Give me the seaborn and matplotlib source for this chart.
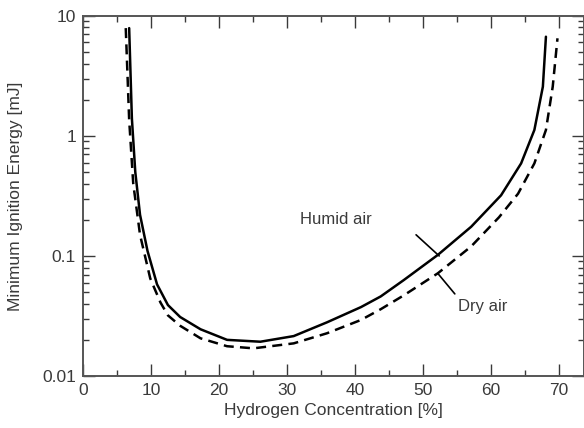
import numpy as np
import pandas as pd
import seaborn as sns
import matplotlib.pyplot as plt
from matplotlib.ticker import MultipleLocator, LogLocator, NullFormatter

# Humid air (solid)
humid_x = [6.8, 7.2, 7.7, 8.4, 9.5, 10.9, 12.5, 14.3, 17.3, 21.2, 26.1, 31.0, 35.9, 40.9,
           43.8, 47.2, 52.2, 57.1, 61.5, 64.45, 66.4, 67.65, 68.1]
humid_y = [7.9, 1.4, 0.5, 0.22, 0.11, 0.058, 0.039, 0.031, 0.0245, 0.020, 0.0193, 0.0215, 0.028, 0.0375,
           0.046, 0.063, 0.102, 0.175, 0.32, 0.59, 1.12, 2.57, 6.7]

# Dry air (dashed)
dry_x = [6.3, 6.8, 7.4, 8.4, 9.9, 11.4, 12.5, 14.3, 17.3, 21.2, 25.1, 31.0, 35.9, 40.9,
         43.8, 47.2, 52.2, 57.1, 61.2, 64.0, 66.4, 68.1, 69.1, 69.8]
dry_y = [7.9, 1.36, 0.4, 0.15, 0.065, 0.041, 0.032, 0.0262, 0.0206, 0.0177, 0.017, 0.0187, 0.0227, 0.0293,
         0.036, 0.047, 0.0717, 0.12, 0.21, 0.33, 0.59, 1.12, 2.57, 6.5]

x_ticks = [0, 10, 20, 30, 40, 50, 60, 70]
y_ticks = [0.01, 0.1, 1, 10]
y_tick_labels = ["0.01", "0.1", "1", "10"]

sns.set_theme(style="ticks")
plt.rcParams['font.family'] = ['Liberation Sans', 'DejaVu Sans']

grey = "#3a3a3a"
fig = plt.figure(figsize=(5.84, 4.28), dpi=100)
ax = fig.add_axes([0.142, 0.1215, 0.858, 0.8415])

humid = pd.DataFrame({"conc": humid_x, "mie": humid_y})
dry = pd.DataFrame({"conc": dry_x, "mie": dry_y})
sns.lineplot(data=humid, x="conc", y="mie", color="black", lw=1.8, ax=ax, sort=False)
sns.lineplot(data=dry, x="conc", y="mie", color="black", lw=1.8, ax=ax, sort=False,
             linestyle=(0, (4, 2.5)))

ax.set_yscale("log")
ax.set_xlim(0, 73.7)
ax.set_ylim(0.01, 10)
ax.set_xticks(x_ticks)
ax.xaxis.set_minor_locator(MultipleLocator(5))
ax.set_yticks(y_ticks)
ax.set_yticklabels(y_tick_labels)
ax.yaxis.set_minor_locator(LogLocator(base=10, subs=np.arange(2, 10)))
ax.yaxis.set_minor_formatter(NullFormatter())

ax.tick_params(which="both", direction="in", top=True, right=True, colors=grey,
               labelsize=12.5, width=1)
ax.tick_params(which="major", length=8.5, pad=5)
ax.tick_params(which="minor", length=4.5)
for s in ax.spines.values():
    s.set_color("#555555")
    s.set_linewidth(1.4)

ax.set_xlabel("Hydrogen Concentration [%]", fontsize=12.5, color=grey, labelpad=4)
ax.set_ylabel("Minimum Ignition Energy [mJ]", fontsize=12.5, color=grey, labelpad=14)

ax.text(37.2, 0.2, "Humid air", fontsize=12, color=grey, ha="center", va="center")
ax.plot([49, 52.4], [0.15, 0.1], color="black", lw=1.2)
ax.text(58.8, 0.0376, "Dry air", fontsize=12, color=grey, ha="center", va="center")
ax.plot([52.2, 54.7], [0.0715, 0.0483], color="black", lw=1.2)

fig.savefig("out.png", dpi=100)
